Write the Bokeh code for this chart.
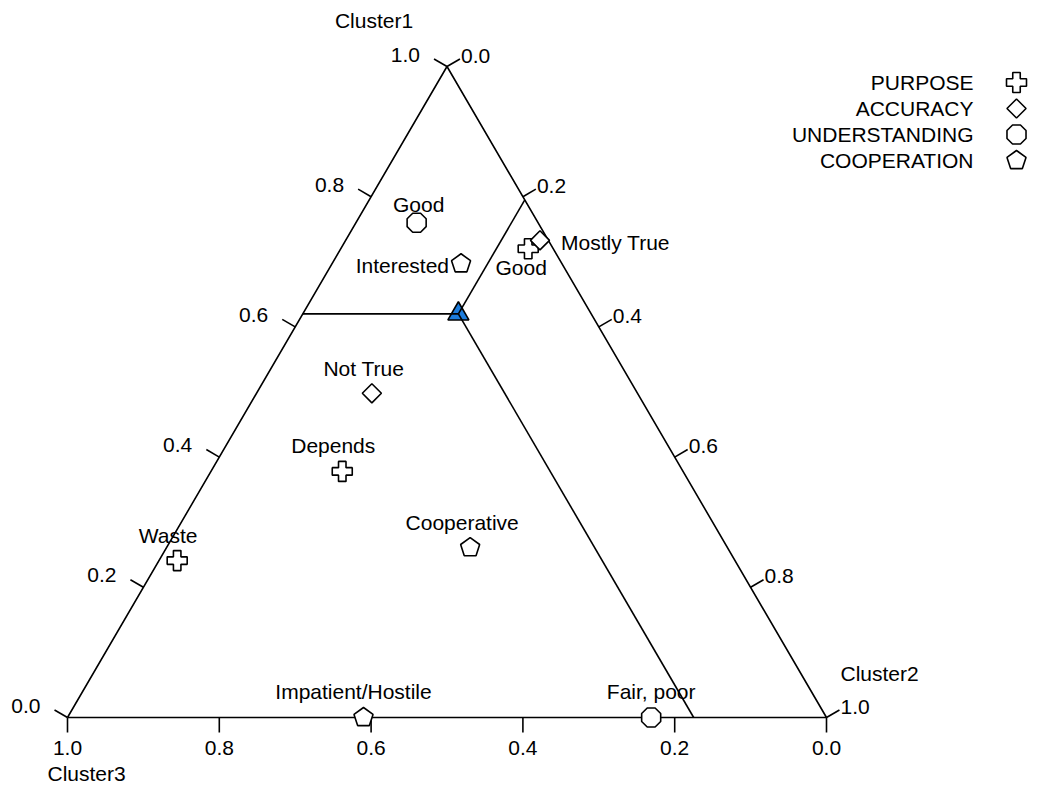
import math
from bokeh.plotting import figure
from bokeh.models import Range1d
from bokeh.core.properties import value
from bokeh.embed import file_html
from bokeh.resources import INLINE

# ---------------- data ----------------
categories = ["PURPOSE", "ACCURACY", "UNDERSTANDING", "COOPERATION"]
point_labels = ["Good", "Interested", "Good", "Mostly True", "Not True", "Depends",
                "Cooperative", "Waste", "Impatient/Hostile", "Fair, poor"]
point_category = ["UNDERSTANDING", "COOPERATION", "PURPOSE", "ACCURACY", "ACCURACY",
                  "PURPOSE", "COOPERATION", "PURPOSE", "COOPERATION", "UNDERSTANDING"]
cluster1 = [0.760, 0.697, 0.720, 0.733, 0.498, 0.378, 0.261, 0.241, 0.000, 0.000]
cluster2 = [0.080, 0.170, 0.247, 0.256, 0.152, 0.173, 0.400, 0.024, 0.390, 0.769]
cluster3 = [round(1 - a - b, 3) for a, b in zip(cluster1, cluster2)]
centre_c1, centre_c2, centre_c3 = 0.620, 0.205, 0.175
tick_values = [0.0, 0.2, 0.4, 0.6, 0.8, 1.0]
tick_labels = ["0.0", "0.2", "0.4", "0.6", "0.8", "1.0"]
axis_titles = ["Cluster1", "Cluster2", "Cluster3"]

# label placement (screen px offsets, align)
label_dx = [2, -12, -7, 21, -8, -9, -8, -9, -10, 0]
label_dy = [-18, 2, 19, 2, -25, -26, -25, -25, -26, -26]
label_align = ["center", "right", "center", "left", "center", "center",
               "center", "center", "center", "center"]

# ---------------- geometry ----------------
SX, SY = 759.0, 651.0      # px per unit in x / y
OX, OY = 67.0, 717.0       # pixel position of the Cluster3 corner
FONT = value("Liberation Sans")
FS = value("21px")


def tx(c1, c2):
    return c2 + c1 / 2.0


def ty(c1):
    return c1


def dpx(dx, dy):
    """screen px offset (y down) -> data offset"""
    return dx / SX, -dy / SY


W, H = 1029, 784
x0, x1 = (0 - OX) / SX, (W - OX) / SX
y0, y1 = (OY - H) / SY, (OY - 0) / SY

p = figure(width=W, height=H, x_range=Range1d(x0, x1), y_range=Range1d(y0, y1),
           output_backend="svg", toolbar_location=None,
           x_axis_location=None, y_axis_location=None, min_border=0)
p.grid.visible = False
p.outline_line_color = None
p.background_fill_color = "white"
p.border_fill_color = "white"

LW = 1.6

# triangle outline
p.line([0, 0.5, 1, 0], [0, 1, 0, 0], line_color="black", line_width=LW)

# ticks
TL = 15.0
nl = (-0.8642, -0.5031)
nr = (0.8636, -0.5041)
xs, ys = [], []
lab_l = dict(x=[], y=[], t=[])
lab_r = dict(x=[], y=[], t=[])
lab_b = dict(x=[], y=[], t=[])
for v, lab in zip(tick_values, tick_labels):
    # left edge: Cluster1
    bx, by = tx(v, 0.0), ty(v)
    ddx, ddy = dpx(TL * nl[0], TL * nl[1])
    xs.append([bx, bx + ddx]); ys.append([by, by + ddy])
    lab_l["x"].append(bx); lab_l["y"].append(by); lab_l["t"].append(lab)
    # right edge: Cluster2
    bx, by = tx(1 - v, v), ty(1 - v)
    ddx, ddy = dpx(TL * nr[0], TL * nr[1])
    xs.append([bx, bx + ddx]); ys.append([by, by + ddy])
    lab_r["x"].append(bx); lab_r["y"].append(by); lab_r["t"].append(lab)
    # bottom edge: Cluster3
    bx, by = tx(0.0, 1 - v), ty(0.0)
    ddx, ddy = dpx(0, TL)
    xs.append([bx, bx + ddx]); ys.append([by, by + ddy])
    lab_b["x"].append(bx); lab_b["y"].append(by); lab_b["t"].append(lab)
p.multi_line(xs, ys, line_color="black", line_width=LW)

p.text(x=lab_l["x"], y=lab_l["y"], text=lab_l["t"], x_offset=-27, y_offset=-12,
       text_align="right", text_baseline="middle", text_font=FONT,
       text_font_size=FS, text_color="black")
p.text(x=lab_r["x"], y=lab_r["y"], text=lab_r["t"], x_offset=14, y_offset=-11,
       text_align="left", text_baseline="middle", text_font=FONT,
       text_font_size=FS, text_color="black")
p.text(x=lab_b["x"], y=lab_b["y"], text=lab_b["t"], x_offset=0, y_offset=30,
       text_align="center", text_baseline="middle", text_font=FONT,
       text_font_size=FS, text_color="black")

# axis titles at vertices
p.text(x=[tx(1, 0)], y=[ty(1)], text=[axis_titles[0]], x_offset=-73, y_offset=-46,
       text_align="center", text_baseline="middle", text_font=FONT, text_font_size=FS)
p.text(x=[tx(0, 1)], y=[ty(0)], text=[axis_titles[1]], x_offset=14, y_offset=-44,
       text_align="left", text_baseline="middle", text_font=FONT, text_font_size=FS)
p.text(x=[tx(0, 0)], y=[ty(0)], text=[axis_titles[2]], x_offset=-20, y_offset=56,
       text_align="left", text_baseline="middle", text_font=FONT, text_font_size=FS)

# centre marker and cluster boundary lines
cx, cy = tx(centre_c1, centre_c2), ty(centre_c1)
p.scatter([cx], [cy], marker="triangle", size=21, fill_color="#1C7CDC",
          line_color="black", line_width=LW)
p.multi_line(
    [[tx(centre_c1, 0.0), cx], [cx, tx(1 - centre_c2, centre_c2)], [cx, tx(0.0, 1 - centre_c3)]],
    [[ty(centre_c1), cy], [cy, ty(1 - centre_c2)], [cy, ty(0.0)]],
    line_color="black", line_width=LW)


def draw_marker(xv, yv, cat):
    kw = dict(fill_color="white", line_color="black", line_width=LW)
    if cat == "PURPOSE":
        p.scatter(xv, yv, marker="plus", size=20, **kw)
    elif cat == "ACCURACY":
        p.scatter(xv, yv, marker="square", size=13.5, angle=math.pi / 4, **kw)
    elif cat == "UNDERSTANDING":
        try:
            p.ngon(x=xv, y=yv, radius=10.3, radius_units="screen", n=8,
                   angle=math.pi / 8, **kw)
        except Exception:
            p.scatter(xv, yv, marker="circle", size=19, **kw)
    else:
        try:
            p.ngon(x=xv, y=yv, radius=10, radius_units="screen", n=5, angle=0, **kw)
        except Exception:
            p.scatter(xv, yv, marker="hex", size=19, **kw)


# data points
for cat in categories:
    idx = [i for i, c in enumerate(point_category) if c == cat]
    xv = [tx(cluster1[i], cluster2[i]) for i in idx]
    yv = [ty(cluster1[i]) for i in idx]
    draw_marker(xv, yv, cat)

for align in ["left", "center", "right"]:
    idx = [i for i, a in enumerate(label_align) if a == align]
    if not idx:
        continue
    p.text(x=[tx(cluster1[i], cluster2[i]) for i in idx],
           y=[ty(cluster1[i]) for i in idx],
           text=[point_labels[i] for i in idx],
           x_offset=[label_dx[i] for i in idx], y_offset=[label_dy[i] for i in idx],
           text_align=align, text_baseline="middle", text_font=FONT,
           text_font_size=FS, text_color="black")

# legend (text left, symbol right)
leg_tx = (973 - OX) / SX
leg_sx = (1016 - OX) / SX
leg_y0 = (OY - 82) / SY
leg_step = 26 / SY
for k, cat in enumerate(categories):
    yy = leg_y0 - k * leg_step
    p.text(x=[leg_tx], y=[yy], text=[cat], text_align="right", text_baseline="middle",
           text_font=FONT, text_font_size=FS, text_color="black")
    draw_marker([leg_sx], [yy], cat)

open("out.html", "w").write(file_html(p, INLINE))
